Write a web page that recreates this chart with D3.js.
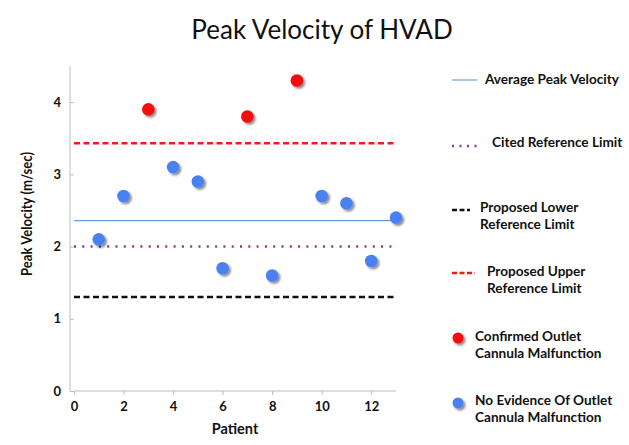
<!DOCTYPE html>
<html><head><meta charset="utf-8">
<script src="https://cdn.jsdelivr.net/npm/d3@7"></script>
<style>body{margin:0;background:#fff}svg{display:block}text{font-family:Lato,"Open Sans",sans-serif}</style>
</head><body><svg id="c" width="629" height="445"></svg>
<script>
const patients = [1,2,3,4,5,6,7,8,9,10,11,12,13];
const velocities = [2.1,2.7,3.9,3.1,2.9,1.7,3.8,1.6,4.3,2.7,2.6,1.8,2.4];
const malfunction = [false,false,true,false,false,false,true,false,true,false,false,false,false];
const refLineNames = ["Average Peak Velocity","Cited Reference Limit","Proposed Lower Reference Limit","Proposed Upper Reference Limit"];
const refLineValues = [2.36,2.0,1.30,3.43];
const xTicks = [0,2,4,6,8,10,12];
const yTicks = [0,1,2,3,4];

const lineStyles = [
  {color:"#6a9fd6", width:1.2, dash:null},
  {color:"#8a3a8a", width:2.5, dash:"2,6.3"},
  {color:"#111", width:2.5, dash:"6,3.5"},
  {color:"#ee1c1c", width:2.5, dash:"6,3.5"}
];
const red = "#f40d0d", blue = "#4a82f0";

const svg = d3.select("#c");
const defs = svg.append("defs");
const f = defs.append("filter").attr("id","sh").attr("x","-50%").attr("y","-50%").attr("width","200%").attr("height","200%");
f.append("feDropShadow").attr("dx",2).attr("dy",2).attr("stdDeviation",1.3).attr("flood-color","#000").attr("flood-opacity",0.45);

const x = d3.scaleLinear().domain([0,13]).range([74,396]);
const y = d3.scaleLinear().domain([0,4.5]).range([391,66]);

svg.append("text").attr("x",322).attr("y",39).attr("text-anchor","middle")
  .attr("font-size",26).attr("fill","#111").text("Peak Velocity of HVAD");

// axes
const axisColor = "#bdbdbd";
const gy = svg.append("g").attr("transform",`translate(${x(0)},0)`)
  .call(d3.axisLeft(y).tickValues(yTicks).tickSize(4).tickPadding(9).tickFormat(d3.format("d")));
const gx = svg.append("g").attr("transform",`translate(0,${y(0)})`)
  .call(d3.axisBottom(x).tickValues(xTicks).tickSize(4).tickPadding(7).tickFormat(d3.format("d")));
[gx,gy].forEach(g=>{
  g.select(".domain").attr("stroke",axisColor);
  g.selectAll(".tick line").attr("stroke",axisColor);
  g.selectAll(".tick text").attr("font-family","Lato,sans-serif").attr("font-weight","bold").attr("font-size",13).attr("fill","#111");
});
gy.select(".domain").attr("d",`M-4,${y(0)}V${y(4.5)}`);
gx.select(".domain").attr("d",`M${x(0)},0H${x(13)}`);

svg.append("text").attr("transform",`translate(32,214) rotate(-90)`).attr("text-anchor","middle")
  .attr("font-size",15.5).attr("font-weight","bold").attr("fill","#111")
  .attr("textLength",124).attr("lengthAdjust","spacingAndGlyphs").text("Peak Velocity (m/sec)");
svg.append("text").attr("x",235).attr("y",434).attr("text-anchor","middle")
  .attr("font-size",14.5).attr("font-weight","bold").attr("fill","#111").text("Patient");

// reference lines
refLineValues.forEach((v,i)=>{
  const s = lineStyles[i];
  svg.append("line").attr("x1",x(0)).attr("x2",x(13)).attr("y1",y(v)).attr("y2",y(v))
    .attr("stroke",s.color).attr("stroke-width",s.width).attr("stroke-dasharray",s.dash);
});

// points
svg.append("g").selectAll("circle").data(patients).join("circle")
  .attr("cx",(d)=>x(d)).attr("cy",(d,i)=>y(velocities[i])).attr("r",6.3)
  .attr("fill",(d,i)=>malfunction[i]?red:blue).attr("filter","url(#sh)");

// legend
const lg = svg.append("g").attr("font-size",13.6).attr("font-weight","bold").attr("fill","#111");
const legItems = [
  {type:"line", i:0, x1:452, x2:477, y:80, tx:485, lines:["Average Peak Velocity"], ty:79},
  {type:"line", i:1, x1:452, x2:478, y:146, tx:492, lines:["Cited Reference Limit"], ty:142},
  {type:"line", i:2, x1:452, x2:470, y:210, tx:480, lines:["Proposed Lower","Reference Limit"], ty:207},
  {type:"line", i:3, x1:452, x2:475, y:273, tx:487, lines:["Proposed Upper","Reference Limit"], ty:271},
  {type:"dot", color:red, cx:458, cy:338, tx:475, lines:["Confirmed Outlet","Cannula Malfunction"], ty:336},
  {type:"dot", color:blue, cx:458, cy:403, tx:475, lines:["No Evidence Of Outlet","Cannula Malfunction"], ty:400}
];
legItems.forEach(it=>{
  if(it.type==="line"){
    const s = lineStyles[it.i];
    lg.append("line").attr("x1",it.x1).attr("x2",it.x2).attr("y1",it.y).attr("y2",it.y)
      .attr("stroke",s.color).attr("stroke-width",s.width).attr("stroke-dasharray",it.i===1?"2,5.5":(it.i>=2?"5,2.5":null));
  } else {
    lg.append("circle").attr("cx",it.cx).attr("cy",it.cy).attr("r",5.5).attr("fill",it.color).attr("filter","url(#sh)");
  }
  it.lines.forEach((t,k)=>{
    lg.append("text").attr("x",it.tx).attr("y",it.ty+k*17).attr("dy","0.35em").text(t);
  });
});
</script></body></html>
